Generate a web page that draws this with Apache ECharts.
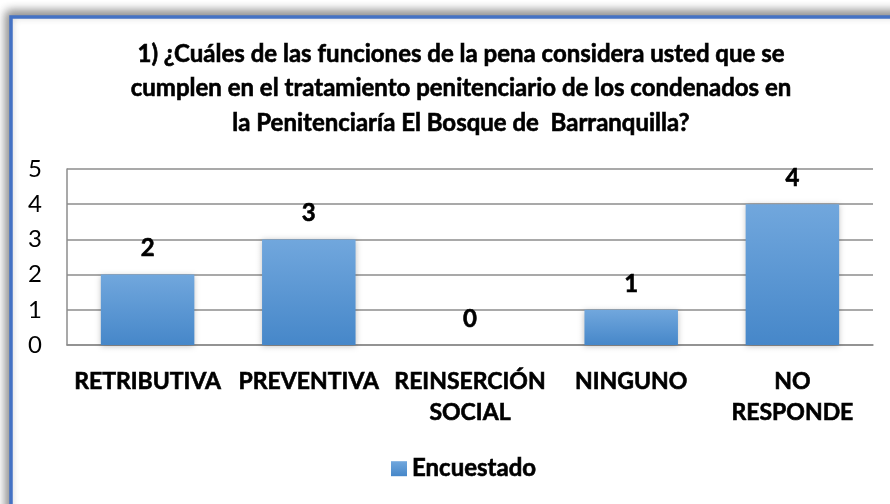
<!DOCTYPE html>
<html>
<head>
<meta charset="utf-8">
<script src="https://cdn.jsdelivr.net/npm/echarts@6/dist/echarts.min.js"></script>
<style>
html,body{margin:0;padding:0;background:#fff;}
#chart{width:890px;height:504px;}
</style>
</head>
<body>
<div id="chart"></div>
<script>
var titleText = "1) ¿Cuáles de las funciones de la pena considera usted que se\ncumplen en el tratamiento penitenciario de los condenados en\nla Penitenciaría El Bosque de  Barranquilla?";
var categories = ["RETRIBUTIVA", "PREVENTIVA", "REINSERCIÓN\nSOCIAL", "NINGUNO", "NO\nRESPONDE"];
var seriesName = "Encuestado";
var values = [2, 3, 0, 1, 4];
var yTicks = [0, 1, 2, 3, 4, 5];

var chart = echarts.init(document.getElementById('chart'), null, {renderer: 'canvas'});
var font = 'Lato, "Open Sans", sans-serif';
var heavy = {textBorderColor: '#000', textBorderWidth: 0.6};
var barGrad = new echarts.graphic.LinearGradient(0, 0, 0, 1, [
  {offset: 0, color: '#71a7dd'},
  {offset: 1, color: '#4687c9'}
]);
chart.setOption({
  animation: false,
  backgroundColor: '#ffffff',
  graphic: [{
    type: 'rect',
    z: -10,
    shape: {x: 11, y: 17, width: 900, height: 520},
    style: {
      fill: '#ffffff', stroke: '#4472c4', lineWidth: 3.5,
      shadowColor: 'rgba(0,0,0,0.45)', shadowBlur: 10, shadowOffsetX: -3, shadowOffsetY: -4
    }
  }],
  title: {
    text: titleText,
    left: 456, top: 32, textAlign: 'center',
    textStyle: Object.assign({fontFamily: font, fontSize: 24, fontWeight: 'bold', color: '#000', lineHeight: 34.5}, heavy)
  },
  legend: {
    data: [seriesName],
    bottom: 18, left: 386,
    itemWidth: 16, itemHeight: 15, itemGap: 6,
    icon: 'rect',
    textStyle: Object.assign({fontFamily: font, fontSize: 24, fontWeight: 'bold', color: '#000'}, heavy)
  },
  grid: {left: 67, right: 17, top: 169, bottom: 159, containLabel: false},
  xAxis: {
    type: 'category',
    data: categories,
    axisLine: {show: true, lineStyle: {color: '#8c8c8c', width: 1.5}},
    axisTick: {show: false},
    axisLabel: Object.assign({
      fontFamily: font, fontSize: 23, fontWeight: 'bold', color: '#000',
      lineHeight: 31, margin: 21, interval: 0
    }, heavy)
  },
  yAxis: {
    type: 'value',
    min: 0, max: 5, interval: 1,
    axisLine: {show: true, lineStyle: {color: '#8c8c8c', width: 1.5}},
    axisTick: {show: false},
    axisLabel: {
      fontFamily: font, fontSize: 24, color: '#000', margin: 25,
      formatter: function (v) { return yTicks.indexOf(v) >= 0 ? String(v) : ''; }
    },
    splitLine: {show: true, lineStyle: {color: '#8c8c8c', width: 1.5}}
  },
  series: [{
    name: seriesName,
    type: 'bar',
    data: values,
    barWidth: '58%',
    itemStyle: {
      color: barGrad,
      shadowColor: 'rgba(0,0,0,0.25)', shadowBlur: 6, shadowOffsetX: 0, shadowOffsetY: 1
    },
    label: Object.assign({
      show: true, position: 'top', distance: 14,
      fontFamily: font, fontSize: 24, fontWeight: 'bold', color: '#000'
    }, heavy)
  }]
});
</script>
</body>
</html>
